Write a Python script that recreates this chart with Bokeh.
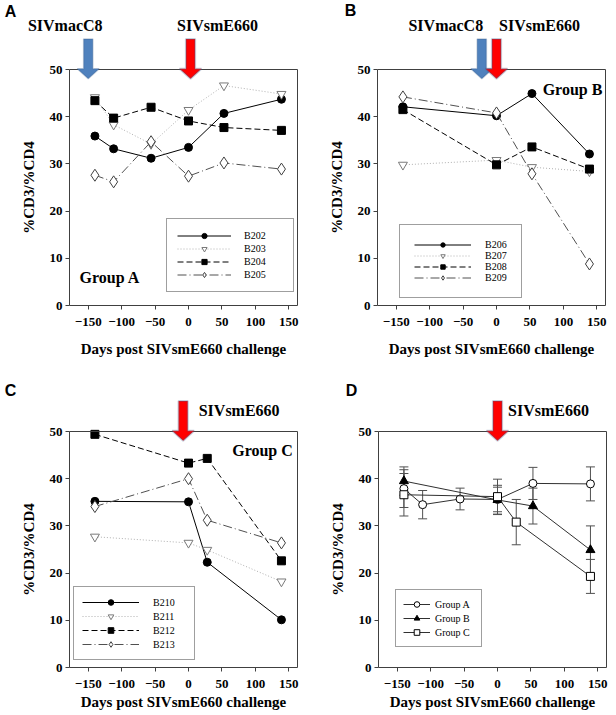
from bokeh.plotting import figure
from bokeh.models import (Range1d, FixedTicker, Legend, LegendItem, Label, LinearAxis,
                          PolyAnnotation, Whisker, TeeHead, ColumnDataSource)
from bokeh.layouts import column, row
from bokeh.embed import file_html
from bokeh.resources import INLINE

# ---------------- data ----------------
x_ticks = [-150, -100, -50, 0, 50, 100, 150]
y_ticks = [0, 10, 20, 30, 40, 50]

days_A = [-140, -112, -56, 0, 53, 139]
B202 = [35.9, 33.2, 31.2, 33.5, 40.7, 43.7]
B203 = [44.1, 38.3, 34.2, 41.4, 46.6, 44.8]
B204 = [43.4, 39.7, 42.0, 39.1, 37.7, 37.1]
B205 = [27.6, 26.2, 34.7, 27.4, 30.2, 28.9]

days_B = [-140, 0, 53, 139]
B206 = [42.1, 40.2, 44.9, 32.1]
B207 = [29.8, 30.8, 29.3, 28.4]
B208 = [41.5, 29.8, 33.6, 28.9]
B209 = [44.2, 40.8, 27.9, 8.8]

days_C = [-140, 0, 28, 139]
B210 = [35.2, 35.1, 22.3, 10.1]
B211 = [27.7, 26.4, 24.9, 18.2]
B212 = [49.4, 43.3, 44.3, 22.6]
B213 = [34.1, 40.0, 31.2, 26.4]

days_grpA = [-140, -112, -56, 0, 53, 139]
grpA_mean = [37.9, 34.5, 35.7, 35.6, 39.0, 38.9]
grpA_err = [4.0, 3.0, 2.3, 2.6, 3.4, 3.6]
days_grpB = [-140, 0, 53, 139]
grpB_mean = [39.5, 35.5, 34.2, 24.9]
grpB_err = [3.0, 3.1, 3.8, 5.1]
days_grpC = [-140, 0, 28, 139]
grpC_mean = [36.6, 36.2, 30.8, 19.3]
grpC_err = [4.5, 3.7, 4.8, 3.6]

# inoculation arrows (day positions)
arrows_A = [("SIVmacC8", -150), ("SIVsmE660", 3)]
arrows_B = [("SIVmacC8", -22), ("SIVsmE660", 0)]
arrows_C = [("SIVsmE660", -8)]
arrows_D = [("SIVsmE660", 0)]

# ---------------- styles ----------------
XR = (-178, 163)
YR = (0, 50)
BW, BH = 228, 236                 # plot box size in px
KX = (XR[1] - XR[0]) / BW         # data units per px (x)
KY = (YR[1] - YR[0]) / BH         # data units per px (y)
AX_COL = "#404040"
SERIF = "Liberation Serif"

styles = [
    dict(marker="circle", fill="black", mline="black", lcol="black", dash="solid", size=8),
    dict(marker="inverted_triangle", fill="white", mline="#7a7a7a", lcol="#b0b0b0", dash="1 2", size=9),
    dict(marker="square", fill="black", mline="black", lcol="black", dash="6 3", size=8),
    dict(marker="diamond", fill="white", mline="#404040", lcol="#505050", dash="9 3 1 3", size=12),
]


def panel(W, H, left, top, lab_standoff):
    """Figure whose frame is the whole canvas; the data box sits at (left, top) px."""
    x0 = XR[0] - left * KX
    y1 = YR[1] + top * KY
    p = figure(width=W, height=H, x_range=Range1d(x0, x0 + W * KX),
               y_range=Range1d(y1 - H * KY, y1), min_border=0,
               min_border_left=0, min_border_right=0, min_border_top=0, min_border_bottom=0,
               output_backend="svg", toolbar_location=None,
               background_fill_color="white", border_fill_color="white")
    p.xgrid.visible = False
    p.ygrid.visible = False
    p.outline_line_color = None
    p.xaxis.ticker = FixedTicker(ticks=x_ticks)
    p.yaxis.ticker = FixedTicker(ticks=y_ticks)
    p.xaxis.fixed_location = YR[0]
    p.yaxis.fixed_location = XR[0]
    p.xaxis.bounds = XR
    p.yaxis.bounds = YR
    p.xaxis.axis_label = "Days post SIVsmE660 challenge"
    p.yaxis.axis_label = "%CD3/%CD4"
    for ax in (p.xaxis[0], p.yaxis[0]):
        ax.major_label_text_font = SERIF
        ax.major_label_text_font_style = "bold"
        ax.major_label_text_font_size = "13px"
        ax.major_label_text_color = "black"
        ax.axis_label_text_font = SERIF
        ax.axis_label_text_font_style = "bold"
        ax.axis_label_text_font_size = "15px"
        ax.axis_label_text_color = "black"
        ax.major_tick_in = 0
        ax.major_tick_out = 4
        ax.minor_tick_in = 0
        ax.minor_tick_out = 0
        ax.axis_line_color = AX_COL
        ax.major_tick_line_color = AX_COL
    p.xaxis.major_label_standoff = 8
    p.xaxis.axis_label_standoff = lab_standoff
    p.yaxis.major_label_standoff = 3
    p.yaxis.axis_label_standoff = 10
    # top and right edges of the box
    top_ax = LinearAxis(ticker=FixedTicker(ticks=[]), fixed_location=YR[1], bounds=XR,
                        axis_line_color=AX_COL, major_tick_out=0, minor_tick_out=0)
    right_ax = LinearAxis(ticker=FixedTicker(ticks=[]), fixed_location=XR[1], bounds=YR,
                          axis_line_color=AX_COL, major_tick_out=0, minor_tick_out=0)
    p.add_layout(top_ax, "above")
    p.add_layout(right_ax, "right")
    return p


def add_arrow(p, day, color):
    s, h, t = 4.6 * KX, 11 * KX, YR[1]
    top, base, tip = t + 30.5 * KY, t + 0.7 * KY, t - 9.3 * KY
    xs = [day - s, day + s, day + s, day + h, day, day - h, day - s]
    ys = [top, top, base, base, tip, base, base]
    if color == "blue":
        pa = PolyAnnotation(xs=xs, ys=ys, fill_color="#4f81bd", fill_alpha=1,
                            line_color="#385d8a", line_width=1.5)
    else:
        pa = PolyAnnotation(xs=xs, ys=ys, fill_color="#ff0000", fill_alpha=1,
                            line_color="#3b5e8c", line_width=2)
    p.add_layout(pa)


def add_text(p, txt, x, y, size="16px", font=SERIF, align="center", x_offset=0):
    p.add_layout(Label(x=x, y=y, text=txt, x_offset=x_offset, text_font=font,
                       text_font_style="bold", text_font_size=size, text_align=align,
                       text_baseline="middle", text_color="black"))


def add_series(p, days, vals, st):
    src = ColumnDataSource(dict(x=days, y=vals))
    lr = p.line("x", "y", source=src, line_color=st["lcol"], line_dash=st["dash"], line_width=1)
    sr = p.scatter("x", "y", source=src, marker=st["marker"], size=st["size"],
                   fill_color=st["fill"], line_color=st["mline"], line_width=1)
    return [lr, sr]


def add_legend(p, items, loc, glyph_w, glyph_h, standoff, label_w, pad):
    lg = Legend(items=items, location=loc, orientation="vertical",
                glyph_width=glyph_w, glyph_height=glyph_h, label_height=glyph_h,
                label_standoff=standoff, spacing=0, label_width=label_w,
                padding=pad, margin=0,
                label_text_font=SERIF, label_text_font_size="10px", label_text_color="black",
                border_line_color=AX_COL, border_line_width=1,
                background_fill_color="white", background_fill_alpha=1)
    p.add_layout(lg)


TOP_H, BOT_H, LW, RW = 362, 352, 308, 306

# ---------------- Panel A ----------------
pA = panel(LW, TOP_H, 69, 69, 12)
itemsA = []
for name, vals, st in zip(["B202", "B203", "B204", "B205"], [B202, B203, B204, B205], styles):
    itemsA.append(LegendItem(label=name, renderers=add_series(pA, days_A, vals, st)))
add_legend(pA, itemsA, (166, 70), 54, 13, 13, 39, 10)
add_arrow(pA, arrows_A[0][1], "blue")
add_arrow(pA, arrows_A[1][1], "red")
add_text(pA, arrows_A[0][0], arrows_A[0][1], YR[1] + 44 * KY, x_offset=-23)
add_text(pA, arrows_A[1][0], arrows_A[1][1], YR[1] + 44 * KY, x_offset=27)
add_text(pA, "Group A", XR[0] + 10 * KX, YR[0] + 28 * KY, align="left")
add_text(pA, "A", XR[0] - 59 * KX, YR[1] + 58 * KY, font="Liberation Sans")

# ---------------- Panel B ----------------
pB = panel(RW, TOP_H, 69, 69, 12)
itemsB = []
for name, vals, st in zip(["B206", "B207", "B208", "B209"], [B206, B207, B208, B209], styles):
    itemsB.append(LegendItem(label=name, renderers=add_series(pB, days_B, vals, st)))
add_legend(pB, itemsB, (91, 64), 57, 11, 14, 16, 14)
add_arrow(pB, arrows_B[0][1], "blue")
add_arrow(pB, arrows_B[1][1], "red")
add_text(pB, arrows_B[0][0], arrows_B[0][1], YR[1] + 44 * KY, x_offset=-36)
add_text(pB, arrows_B[1][0], arrows_B[1][1], YR[1] + 44 * KY, x_offset=43)
add_text(pB, "Group B", XR[0] + 195 * KX, YR[1] - 20 * KY)
add_text(pB, "B", XR[0] - 27 * KX, YR[1] + 59 * KY, font="Liberation Sans")

# ---------------- Panel C ----------------
pC = panel(LW, BOT_H, 69, 69, 3)
itemsC = []
for name, vals, st in zip(["B210", "B211", "B212", "B213"], [B210, B211, B212, B213], styles):
    itemsC.append(LegendItem(label=name, renderers=add_series(pC, days_C, vals, st)))
add_legend(pC, itemsC, (73, 54), 57, 14, 14, 33, 8)
add_arrow(pC, arrows_C[0][1], "red")
add_text(pC, arrows_C[0][0], arrows_C[0][1], YR[1] + 21 * KY, x_offset=56)
add_text(pC, "Group C", XR[0] + 193 * KX, YR[1] - 19 * KY)
add_text(pC, "C", XR[0] - 59 * KX, YR[1] + 41 * KY, font="Liberation Sans")

# ---------------- Panel D ----------------
pD = panel(RW, BOT_H, 70, 69, 3)
grp_styles = [
    dict(marker="circle", fill="white", mline="black", lcol="#303030", dash="solid", size=8),
    dict(marker="triangle", fill="black", mline="black", lcol="#303030", dash="solid", size=9),
    dict(marker="square", fill="white", mline="black", lcol="#303030", dash="solid", size=8),
]
itemsD = []
for name, days, m, e, st in zip(["Group A", "Group B", "Group C"],
                                [days_grpA, days_grpB, days_grpC],
                                [grpA_mean, grpB_mean, grpC_mean],
                                [grpA_err, grpB_err, grpC_err], grp_styles):
    wsrc = ColumnDataSource(dict(x=days, lo=[a - b for a, b in zip(m, e)],
                                 hi=[a + b for a, b in zip(m, e)]))
    pD.add_layout(Whisker(source=wsrc, base="x", lower="lo", upper="hi",
                          line_color="#505050", line_width=1,
                          lower_head=TeeHead(size=9, line_color="#505050", line_width=1),
                          upper_head=TeeHead(size=9, line_color="#505050", line_width=1),
                          level="underlay"))
    itemsD.append(LegendItem(label=name, renderers=add_series(pD, days, m, st)))
add_legend(pD, itemsD, (87, 67), 27, 14, 5, 39, 7)
add_arrow(pD, arrows_D[0][1], "red")
add_text(pD, arrows_D[0][0], arrows_D[0][1], YR[1] + 21 * KY, x_offset=51)
add_text(pD, "D", XR[0] - 27 * KX, YR[1] + 41 * KY, font="Liberation Sans")

layout = column(row(pA, pB), row(pC, pD))
open("out.html", "w").write(file_html(layout, INLINE))
